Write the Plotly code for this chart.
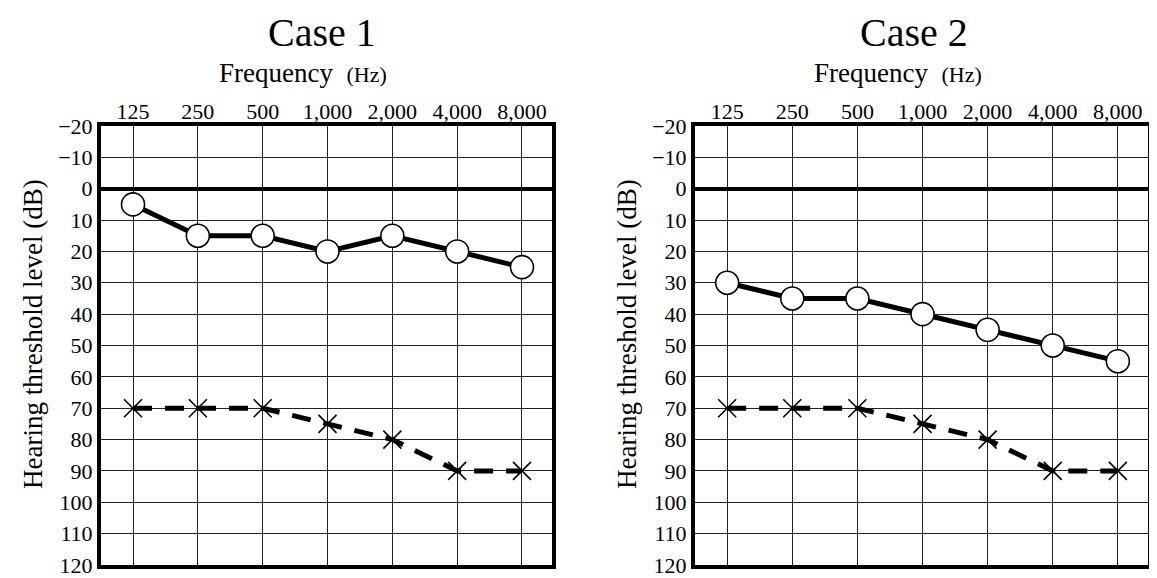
import plotly.graph_objects as go

freq_labels = ["125", "250", "500", "1,000", "2,000", "4,000", "8,000"]
freq_idx = [0, 1, 2, 3, 4, 5, 6]
y_ticks = [-20, -10, 0, 10, 20, 30, 40, 50, 60, 70, 80, 90, 100, 110, 120]
y_tick_text = ["\u221220", "\u221210"] + [str(v) for v in y_ticks[2:]]

case1_air = [5, 15, 15, 20, 15, 20, 25]
case1_bone = [70, 70, 70, 75, 80, 90, 90]
case2_air = [30, 35, 35, 40, 45, 50, 55]
case2_bone = [70, 70, 70, 75, 80, 90, 90]

FONT = "Liberation Serif"
OFF = 8  # page body margin
W, H = 1157 - OFF, 578 - OFF


def px(x):
    return (x - OFF) / W


def py(y):
    return 1 - (y - OFF) / H


fig = go.Figure()

cases = [(case1_air, case1_bone, "x", "y"), (case2_air, case2_bone, "x2", "y2")]
for air, bone, xa, ya in cases:
    fig.add_trace(go.Scatter(
        x=freq_idx, y=bone, xaxis=xa, yaxis=ya, mode="lines+markers",
        line=dict(color="black", width=5, dash="19px,13px"),
        marker=dict(symbol="x-thin", size=18, line=dict(color="black", width=1.6)),
        showlegend=False, cliponaxis=False))
    fig.add_trace(go.Scatter(
        x=freq_idx, y=air, xaxis=xa, yaxis=ya, mode="lines+markers",
        line=dict(color="black", width=5),
        marker=dict(symbol="circle", size=23, color="white", line=dict(color="black", width=1.6)),
        showlegend=False, cliponaxis=False))

ydom = [py(565), py(126)]
xdoms = [[px(101), px(552)], [px(695), px(1148)]]

common_x = dict(
    range=[-0.494, 6.463], tickmode="array", tickvals=freq_idx, ticktext=freq_labels,
    side="top", showgrid=True, gridcolor="#222", gridwidth=1.3, zeroline=False,
    showline=True, mirror=True, linecolor="black", linewidth=4, ticks="",
    tickfont=dict(family=FONT, size=22, color="black"), ticklabelstandoff=-6,
    automargin=False,
)
common_y = dict(
    range=[120, -20], tickmode="array", tickvals=y_ticks, ticktext=y_tick_text,
    showgrid=True, gridcolor="#222", gridwidth=1.3, zeroline=True, zerolinecolor="black",
    zerolinewidth=3.5, showline=True, mirror=True, linecolor="black", linewidth=4, ticks="",
    tickfont=dict(family=FONT, size=22, color="black"), ticklabelstandoff=0,
    automargin=False,
)

fig.update_layout(
    width=W, height=H, margin=dict(l=0, r=0, t=0, b=0, autoexpand=False),
    paper_bgcolor="white", plot_bgcolor="white",
    xaxis=dict(domain=xdoms[0], anchor="y", **common_x),
    yaxis=dict(domain=ydom, anchor="x", **common_y),
    xaxis2=dict(domain=xdoms[1], anchor="y2", **common_x),
    yaxis2=dict(domain=ydom, anchor="x2", **common_y),
)

titles = [("Case 1", 322, 303, 33), ("Case 2", 914, 898, 627)]
for t, tx, fx, yx in titles:
    fig.add_annotation(text=t, x=px(tx), y=py(8), xref="paper", yref="paper",
                       xanchor="center", yanchor="top", showarrow=False,
                       font=dict(family=FONT, size=40, color="black"))
    fig.add_annotation(text="Frequency&nbsp;&nbsp;<span style='font-size:22px'>(Hz)</span>",
                       x=px(fx), y=py(73), xref="paper", yref="paper",
                       xanchor="center", yanchor="middle", showarrow=False,
                       font=dict(family=FONT, size=27, color="black"))
    fig.add_annotation(text="Hearing threshold level (dB)", x=px(yx), y=py(334),
                       xref="paper", yref="paper", xanchor="center", yanchor="middle",
                       textangle=-90, showarrow=False,
                       font=dict(family=FONT, size=27, color="black"))

fig.write_html("out.html")
